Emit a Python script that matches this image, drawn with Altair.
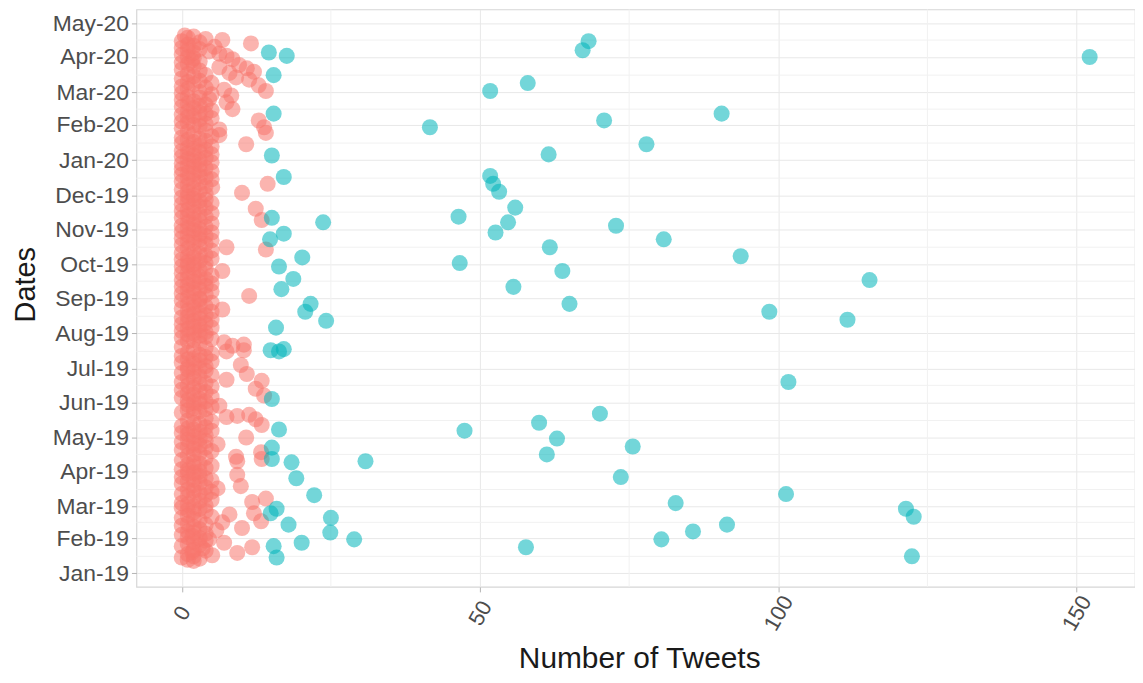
import altair as alt
import pandas as pd

# ---- low-activity cluster (red): daily tweet counts, one list per month ----
red_2019_01 = [2, 1, 3, 0, 2, 5.1, 1, 9.3, 1.8, 4, 2, 3.5, 11.8, 0, 3, 1, 7.1, 2, 4, 4.6]  # from Jan 12
red_2019_02 = [3, 1, 1.8, 0, 4, 2, 1, 5.8, 3, 10.1, 2, 0, 4, 1, 6.8, 13.3, 3, 2, 0, 5, 1, 8.0, 12.1, 2, 4, 1, 3, 0]
red_2019_03 = [2, 4, 1, 0, 11.8, 3, 5, 14.1, 2, 1, 4, 0, 3, 5, 2, 1, 6.0, 4, 9.9, 2, 0, 3, 1, 5, 2, 4, 0, 3, 9.3, 1, 2]
red_2019_04 = [3, 1, 0, 4, 2, 5, 1, 3, 2, 9.3, 0, 13.4, 4, 9.1, 1, 2, 3, 13.3, 5, 0, 2, 4, 1, 3, 6, 2, 0, 4, 1, 3]
red_2019_05 = [10.8, 2, 4, 1, 0, 3, 5, 2, 1, 4, 0, 13.4, 3, 2, 5, 1, 12.4, 4, 7.5, 9.3, 11.3, 2, 0, 3, 1, 4, 2, 5, 6.3, 1, 3]
red_2019_06 = [2, 4, 1, 3, 0, 5, 13.8, 2, 1, 4, 3, 0, 12.4, 2, 5, 1, 3, 4, 0, 13.4, 7.5, 2, 1, 3, 5, 10.9, 0, 2, 4, 1]
red_2019_07 = [3, 1, 4, 9.9, 2, 0, 5, 3, 1, 2, 4, 0, 3, 5, 1, 7.5, 10.4, 2, 4, 0, 8.5, 10.4, 3, 7.1, 1, 2, 5, 0, 4, 3, 1]
red_2019_08 = [2, 4, 0, 3, 1, 5, 2, 3, 0, 4, 1, 2, 5, 3, 0, 1, 4, 2, 3, 5, 1, 6.8, 0, 2, 4, 3, 1, 5, 2, 0, 3]
red_2019_09 = [3, 1, 11.3, 4, 0, 2, 5, 1, 3, 2, 0, 4, 1, 5, 3, 2, 0, 4, 1, 3, 5, 2, 0, 1, 6.8, 3, 4, 2, 0, 1]
red_2019_10 = [2, 4, 1, 3, 0, 5, 2, 1, 4, 3, 0, 2, 5, 14.1, 1, 7.5, 3, 0, 4, 2, 1, 5, 3, 0, 2, 4, 1, 3, 5, 0, 2]
red_2019_11 = [3, 1, 4, 0, 2, 5, 1, 3, 13.4, 2, 0, 4, 1, 3, 5, 2, 0, 1, 12.4, 4, 3, 2, 0, 5, 1, 3, 4, 2, 0, 1]
red_2019_12 = [2, 4, 10.1, 1, 3, 0, 2, 5.1, 4, 1, 14.4, 3, 0, 2, 5, 1, 4, 3, 0, 2, 1, 5, 3, 0, 4, 2, 1, 3, 0, 5, 2]
red_2020_01 = [3, 1, 4, 0, 2, 5, 1, 3, 0, 4, 2, 1, 5, 3, 10.8, 0, 2, 4, 1, 3, 0, 5, 6.3, 2, 14.1, 1, 4, 6.3, 0, 13.8, 3]
red_2020_02 = [2, 4, 1, 0, 12.9, 3, 5, 1, 2, 0, 4, 3, 1, 5, 8.5, 2, 0, 3, 4, 1, 7.5, 2, 0, 4.6, 3, 1, 8.3, 5, 0]
red_2020_03 = [3, 14.1, 7.1, 1, 4, 0, 12.9, 2, 5, 1, 3, 11.3, 0, 9.1, 2, 4, 1, 8.0, 12.1, 3, 0, 10.9, 6.3, 2, 9.6, 1, 0, 3, 1.7, 8.5, 2]
red_2020_04 = [1, 7.5, 0, 6.3, 2, 4.6, 1, 3, 0, 5.5, 2, 1, 11.6, 3, 0, 6.8, 4, 1, 2, 0.5]  # Apr 1-20

red_starts = ["2019-01-12", "2019-02-01", "2019-03-01", "2019-04-01", "2019-05-01", "2019-06-01",
              "2019-07-01", "2019-08-01", "2019-09-01", "2019-10-01", "2019-11-01", "2019-12-01",
              "2020-01-01", "2020-02-01", "2020-03-01", "2020-04-01"]
red_lists = [red_2019_01, red_2019_02, red_2019_03, red_2019_04, red_2019_05, red_2019_06,
             red_2019_07, red_2019_08, red_2019_09, red_2019_10, red_2019_11, red_2019_12,
             red_2020_01, red_2020_02, red_2020_03, red_2020_04]

# ---- high-activity cluster (teal) ----
teal_dates = [
    "2020-04-01", "2020-04-15", "2020-04-07", "2020-03-09", "2020-03-02", "2020-02-11", "2020-01-30",
    "2020-02-05", "2020-01-15", "2020-01-06", "2019-12-18", "2019-12-11", "2019-12-04", "2019-11-20",
    "2019-11-12", "2019-11-07", "2019-11-04", "2019-10-29", "2019-10-23", "2019-10-16", "2019-10-08",
    "2019-10-02", "2019-09-25", "2019-09-17", "2019-09-11", "2019-08-27", "2019-08-20", "2019-08-13",
    "2019-06-19", "2019-05-22", "2019-05-14", "2019-05-07", "2019-04-30", "2019-04-23", "2019-04-16",
    "2019-03-27", "2019-03-12", "2019-03-04", "2019-02-27", "2019-02-20", "2019-02-13", "2019-02-07",
    "2019-01-31", "2019-01-24", "2019-01-16",
    "2020-04-05", "2020-04-02", "2020-03-16", "2020-02-11", "2020-01-05", "2019-12-17", "2019-11-11",
    "2019-11-07", "2019-10-28", "2019-10-23", "2019-10-07", "2019-09-29", "2019-09-18", "2019-09-09",
    "2019-08-27", "2019-08-20", "2019-08-12", "2019-08-06", "2019-07-17", "2019-07-16", "2019-07-18",
    "2019-06-04", "2019-05-08", "2019-04-22", "2019-04-12", "2019-04-09", "2019-04-10", "2019-03-26",
    "2019-03-11", "2019-02-23", "2019-02-27", "2019-02-19", "2019-02-06", "2019-02-13", "2019-01-28",
    "2019-01-31", "2019-01-25", "2019-01-15"]
teal_counts = [
    152.2, 68.2, 67.2, 58.0, 51.7, 90.5, 41.6,
    70.8, 77.9, 61.5, 51.7, 52.2, 53.2, 55.9,
    46.4, 54.7, 72.8, 52.6, 80.8, 61.7, 93.7,
    46.6, 63.8, 115.3, 55.6, 65.0, 98.5, 111.6,
    101.7, 70.1, 59.9, 47.4, 62.9, 75.6, 61.2,
    73.6, 101.3, 82.8, 121.4, 122.7, 91.4, 85.7,
    80.4, 57.7, 122.4,
    14.6, 17.6, 15.4, 15.4, 15.1, 17.1, 15.1,
    23.7, 17.1, 14.8, 20.2, 16.3, 18.7, 16.7,
    21.6, 20.7, 24.2, 15.8, 14.9, 16.3, 17.1,
    15.1, 16.3, 15.1, 15.1, 18.4, 30.8, 19.2,
    22.2, 14.9, 15.9, 25.0, 24.9, 17.9, 20.1,
    28.9, 15.4, 15.9]

# ---- axis ticks / grid ----
x_major = [0, 50, 100, 150]
x_minor = [25, 75, 125]
month_ticks = [(2019, m) for m in range(1, 13)] + [(2020, m) for m in range(1, 6)]
y_minor = ["2019-01-16", "2019-02-15", "2019-03-16", "2019-04-16", "2019-05-16", "2019-06-16",
           "2019-07-16", "2019-08-16", "2019-09-16", "2019-10-16", "2019-11-16", "2019-12-16",
           "2020-01-16", "2020-02-15", "2020-03-16", "2020-04-16"]

rows = []
for start, vals in zip(red_starts, red_lists):
    days = pd.date_range(start, periods=len(vals), freq="D")
    for d, v in zip(days, vals):
        rows.append({"date": d.strftime("%Y-%m-%d"), "tweets": v, "cluster": "low"})
for d, v in zip(teal_dates, teal_counts):
    rows.append({"date": d, "tweets": v, "cluster": "high"})
df = pd.DataFrame(rows)

minor_df = pd.DataFrame({"tweets": x_minor + [None] * (len(y_minor) - len(x_minor)),
                         "date": y_minor})

FONT = "Liberation Sans"
x_scale = alt.Scale(domain=[-7.6, 159.8], nice=False, zero=False)
y_scale = alt.Scale(type="utc", domain=[alt.DateTime(year=2018, month=12, date=20, utc=True),
                                        alt.DateTime(year=2020, month=5, date=13, utc=True)], nice=False)

x_axis = alt.Axis(values=x_major, title="Number of Tweets", grid=True, domain=False,
                  tickColor="#B3B3B3", tickSize=5, labelAngle=-60, labelAlign="center",
                  labelBaseline="middle", labelPadding=21, labelFontSize=22,
                  labelColor="#4D4D4D", labelFont=FONT, titleFont=FONT, titleFontSize=30,
                  titleFontWeight="normal", titleColor="#1A1A1A", titleX=505, titleY=81,
                  titleBaseline="alphabetic", titleAlign="center", labelFlush=False,
                  labelOverlap=False)
y_axis = alt.Axis(values=[alt.DateTime(year=y, month=m, date=1, utc=True) for y, m in month_ticks],
                  format="%b-%y", title="Dates", grid=True, domain=False,
                  tickColor="#B3B3B3", tickSize=5, labelPadding=3, labelFontSize=23,
                  labelColor="#4D4D4D", labelFont=FONT, titleFont=FONT, titleFontSize=29,
                  titleFontWeight="normal", titleColor="#1A1A1A", titleAngle=-90,
                  titleX=-111, titleY=276, titleBaseline="middle", titleAlign="center",
                  labelFlush=False, labelOverlap=False)

minor_x = alt.Chart(minor_df).mark_rule(color="#F1F1F1", strokeWidth=1).encode(
    x=alt.X("tweets:Q", scale=x_scale, axis=x_axis))
minor_y = alt.Chart(minor_df).mark_rule(color="#F1F1F1", strokeWidth=1).encode(
    y=alt.Y("date:T", scale=y_scale, axis=y_axis))

points = alt.Chart(df).mark_circle(size=260, opacity=0.55).encode(
    x=alt.X("tweets:Q", scale=x_scale, axis=x_axis),
    y=alt.Y("date:T", scale=y_scale, axis=y_axis),
    color=alt.Color("cluster:N", scale=alt.Scale(domain=["low", "high"], range=["#F8766D", "#00B5BA"]),
                    legend=None),
)

chart = alt.layer(minor_x, minor_y, points).properties(
    width=1003, height=580,
    autosize=alt.AutoSizeParams(type="none"),
    padding={"left": 129, "top": 0, "right": 0, "bottom": 86},
).configure_view(stroke="#D6D6D6", strokeWidth=1.2).configure_axis(
    gridColor="#E8E8E8", gridWidth=1)

chart.save("out.html", embed_options={"renderer": "svg", "actions": False})
